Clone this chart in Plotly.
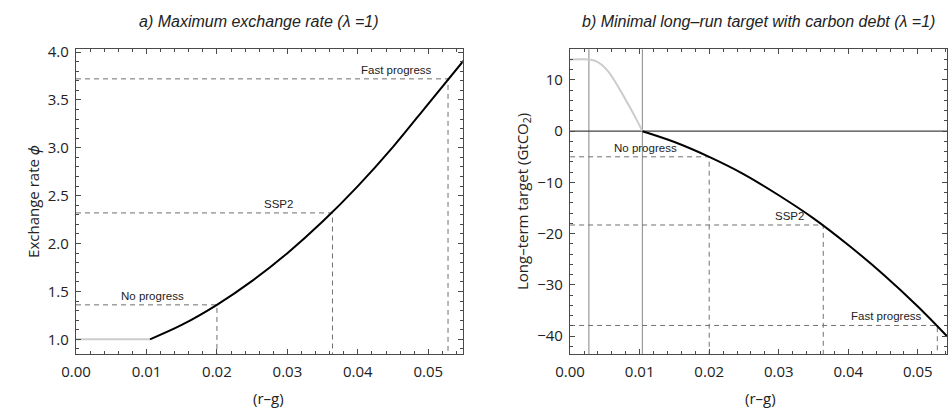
import plotly.graph_objects as go

# ---------------- data ----------------
# Panel a: maximum exchange rate
a_flat_x = [0.0, 0.0105]
a_flat_y = [1.0, 1.0]
a_curve_x = [0.0105, 0.015, 0.02, 0.025, 0.03, 0.035, 0.04, 0.045, 0.05, 0.055]
a_curve_y = [1.0, 1.15, 1.36, 1.61, 1.90, 2.23, 2.60, 3.01, 3.46, 3.91]

# Panel b: minimal long-run target with carbon debt
b_gray_x = [0.0, 0.0027, 0.0035, 0.0045, 0.0055, 0.0065, 0.0075, 0.0085, 0.0095, 0.0104]
b_gray_y = [14.0, 14.0, 13.8, 13.0, 11.6, 9.6, 7.3, 4.9, 2.4, 0.0]
b_curve_x = [0.0104, 0.015, 0.02, 0.025, 0.03, 0.035, 0.04, 0.045, 0.05, 0.0542]
b_curve_y = [0.0, -2.1, -5.0, -8.4, -12.5, -17.0, -22.2, -27.9, -34.2, -40.0]
b_vlines = [0.0027, 0.0104]

# Scenarios
scen_names = ["No progress", "SSP2", "Fast progress"]
scen_x = [0.0200, 0.0364, 0.0528]
a_scen_y = [1.36, 2.32, 3.72]
b_scen_y = [-5.0, -18.3, -37.9]
a_label_x = [0.0109, 0.0287, 0.0455]
b_label_x = [0.0109, 0.0315, 0.0455]

titles = ["<i>a) Maximum exchange rate (λ =1)</i>",
          "<i>b) Minimal long\u2013run target with carbon debt (λ =1)</i>"]
ytitles = ["Exchange rate <i>ϕ</i>", "Long\u2013term target (GtCO<sub>2</sub>)"]
xtitle = "(r\u2013g)"

# ---------------- layout constants ----------------
W, H = 950, 413
a_xrange = [0, 0.0549]
a_yrange = [0.845, 4.03]
b_xrange = [0, 0.0542]
b_yrange = [-43.5, 16.0]
ydom = [1 - 353 / H, 1 - 42 / H]
a_xdom = [62 / W, 455 / W]
b_xdom = [564 / W, 947 / W]

FRAME = "#4a4a4a"
DASH = "#707070"
TICKFONT = dict(family="Open Sans, Noto Sans, sans-serif", size=15, color="#222")
LABFONT = dict(family="Liberation Sans, Arial, sans-serif", size=11.5, color="#222")

fig = go.Figure()

# Panel a traces
fig.add_trace(go.Scatter(x=a_flat_x, y=a_flat_y, mode="lines",
                         line=dict(color="#cccccc", width=2), xaxis="x", yaxis="y"))
for nm, sx, sy in zip(scen_names, scen_x, a_scen_y):
    fig.add_trace(go.Scatter(x=[a_xrange[0], sx, sx], y=[sy, sy, a_yrange[0]], mode="lines",
                             line=dict(color=DASH, width=1, dash="5px,4px"),
                             xaxis="x", yaxis="y"))
fig.add_trace(go.Scatter(x=a_curve_x, y=a_curve_y, mode="lines",
                         line=dict(color="black", width=2, shape="spline"),
                         xaxis="x", yaxis="y"))

# Panel b traces
fig.add_trace(go.Scatter(x=b_gray_x, y=b_gray_y, mode="lines",
                         line=dict(color="#cccccc", width=2, shape="spline", smoothing=0.8),
                         xaxis="x2", yaxis="y2"))
for nm, sx, sy in zip(scen_names, scen_x, b_scen_y):
    fig.add_trace(go.Scatter(x=[b_xrange[0], sx, sx], y=[sy, sy, b_yrange[0]], mode="lines",
                             line=dict(color=DASH, width=1, dash="5px,4px"),
                             xaxis="x2", yaxis="y2"))
fig.add_trace(go.Scatter(x=b_curve_x, y=b_curve_y, mode="lines",
                         line=dict(color="black", width=2, shape="spline"),
                         xaxis="x2", yaxis="y2"))

shapes = []
for vx in b_vlines:
    shapes.append(dict(type="line", xref="x2", yref="y2 domain", x0=vx, x1=vx, y0=0, y1=1,
                       line=dict(color="#9a9a9a", width=1.2), layer="below"))
shapes.append(dict(type="line", xref="x2 domain", yref="y2", x0=0, x1=1, y0=0, y1=0,
                   line=dict(color="#444444", width=1.2), layer="below"))

annotations = []
for nm, lx, sy in zip(scen_names, a_label_x, a_scen_y):
    annotations.append(dict(x=lx, y=sy, xref="x", yref="y", text=nm, showarrow=False,
                            yanchor="bottom", yshift=1, font=LABFONT))
for nm, lx, sy in zip(scen_names, b_label_x, b_scen_y):
    annotations.append(dict(x=lx, y=sy, xref="x2", yref="y2", text=nm, showarrow=False,
                            yanchor="bottom", yshift=1, font=LABFONT))

TFONT = dict(family="Liberation Sans, Arial, sans-serif", size=16, color="#222")
annotations.append(dict(x=248 / W, y=1 - 14 / H, xref="paper", yref="paper", text=titles[0],
                        showarrow=False, font=TFONT, xanchor="center", yanchor="middle"))
annotations.append(dict(x=755 / W, y=1 - 14 / H, xref="paper", yref="paper", text=titles[1],
                        showarrow=False, font=TFONT, xanchor="center", yanchor="middle"))
AFONT = dict(family="Open Sans, Noto Sans, sans-serif", size=15, color="#222")
annotations.append(dict(x=18 / W, y=1 - 197 / H, xref="paper", yref="paper", text=ytitles[0],
                        showarrow=False, font=AFONT, textangle=-90, xanchor="center", yanchor="middle"))
annotations.append(dict(x=516 / W, y=1 - 197 / H, xref="paper", yref="paper", text=ytitles[1],
                        showarrow=False, font=AFONT, textangle=-90, xanchor="center", yanchor="middle"))
annotations.append(dict(x=258 / W, y=1 - 398 / H, xref="paper", yref="paper", text=xtitle,
                        showarrow=False, font=AFONT, xanchor="center", yanchor="middle"))
annotations.append(dict(x=757 / W, y=1 - 398 / H, xref="paper", yref="paper", text=xtitle,
                        showarrow=False, font=AFONT, xanchor="center", yanchor="middle"))


def axis(rng, dom, dtick, minor_dtick, fmt, anchor):
    return dict(range=rng, domain=dom, anchor=anchor, showgrid=False, zeroline=False,
                showline=True, linecolor=FRAME, linewidth=1.3, mirror="allticks",
                ticks="inside", ticklen=5, tickwidth=1, tickcolor=FRAME,
                dtick=dtick, tick0=0, tickformat=fmt, tickfont=TICKFONT,
                minor=dict(dtick=minor_dtick, ticks="inside", ticklen=3, tickcolor=FRAME, showgrid=False))


fig.update_layout(
    width=W, height=H,
    margin=dict(l=0, r=0, t=0, b=0),
    paper_bgcolor="white", plot_bgcolor="white",
    showlegend=False,
    xaxis=axis(a_xrange, a_xdom, 0.01, 0.002, ".2f", "y"),
    yaxis=axis(a_yrange, ydom, 0.5, 0.1, ".1f", "x"),
    xaxis2=axis(b_xrange, b_xdom, 0.01, 0.002, ".2f", "y2"),
    yaxis2=axis(b_yrange, ydom, 10, 2, "d", "x2"),
    shapes=shapes,
    annotations=annotations,
)
fig.update_xaxes(ticklabelstandoff=4)
fig.update_yaxes(ticklabelstandoff=3)

fig.write_html("out.html")
